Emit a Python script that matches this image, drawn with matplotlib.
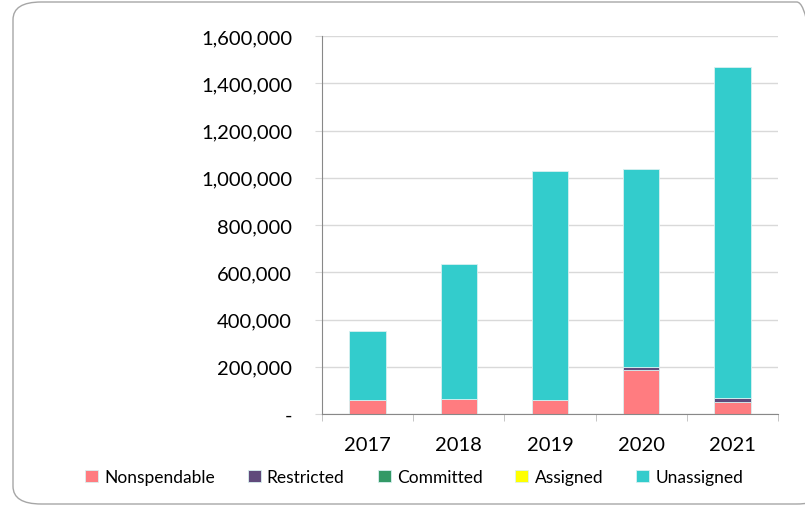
import matplotlib
matplotlib.use("Agg")
import matplotlib.pyplot as plt
from matplotlib.patches import FancyBboxPatch
import numpy as np

years = ["2017", "2018", "2019", "2020", "2021"]
nonspendable = [58000, 63000, 60000, 186000, 51000]
restricted = [0, 0, 0, 14000, 18000]
committed = [0, 0, 0, 0, 0]
assigned = [0, 0, 0, 0, 0]
unassigned = [293000, 571000, 967000, 836000, 1401000]

series = [
    ("Nonspendable", nonspendable, "#FF7C80"),
    ("Restricted", restricted, "#604A7B"),
    ("Committed", committed, "#339966"),
    ("Assigned", assigned, "#FFFF00"),
    ("Unassigned", unassigned, "#33CCCC"),
]
yticks = [0, 200000, 400000, 600000, 800000, 1000000, 1200000, 1400000, 1600000]

plt.rcParams['font.family'] = ['Lato', 'DejaVu Sans']

W, H = 805, 506
fig = plt.figure(figsize=(W / 100, H / 100), dpi=100)
ax = fig.add_axes([322 / W, 1 - 415 / H, (778 - 322) / W, (415 - 37) / H])

x = np.arange(len(years))
bottom = np.zeros(len(years))
handles = []
for name, vals, col in series:
    v = np.array(vals, dtype=float)
    b = ax.bar(x, v, 0.4, bottom=bottom, color=col, edgecolor="#D8F0F0", linewidth=0.6, label=name)
    handles.append(b)
    bottom += v

ax.set_xlim(-0.5, len(years) - 0.5)
ax.set_ylim(0, 1600000)
ax.set_yticks(yticks)
ax.set_yticklabels(["-" if t == 0 else f"{t:,}" for t in yticks], fontsize=14.5)
ax.yaxis.grid(True, color="#D9D9D9", linewidth=1)
ax.set_axisbelow(True)
ax.set_xticks(x)
ax.set_xticklabels(years, fontsize=14.5)
ax.tick_params(axis='x', length=0, pad=16)
ax.tick_params(axis='y', length=5, color="#D9D9D9", pad=16.5)
# category boundary ticks
ax.set_xticks(np.arange(-0.5, len(years)), minor=True)
ax.tick_params(axis='x', which='minor', length=5, color="#BBBBBB", direction='out')
for s in ["top", "right"]:
    ax.spines[s].set_visible(False)
ax.spines["left"].set_color("#888888")
ax.spines["bottom"].set_color("#888888")

leg = fig.legend(handles=handles, labels=[s[0] for s in series], loc="center",
                 bbox_to_anchor=(414 / W, 1 - 478 / H), ncol=5, frameon=False,
                 fontsize=12.5, handlelength=0.75, handleheight=0.75, handletextpad=0.35,
                 columnspacing=1.9)

frame = FancyBboxPatch((13 / W, 1 / H), (W + 20 - 13) / W, (H - 4) / H,
                       boxstyle="round,pad=0,rounding_size=0.035",
                       transform=fig.transFigure, fill=False, edgecolor="#A6A6A6",
                       linewidth=1, clip_on=False)
fig.patches.append(frame)

fig.savefig("out.png", dpi=100)
